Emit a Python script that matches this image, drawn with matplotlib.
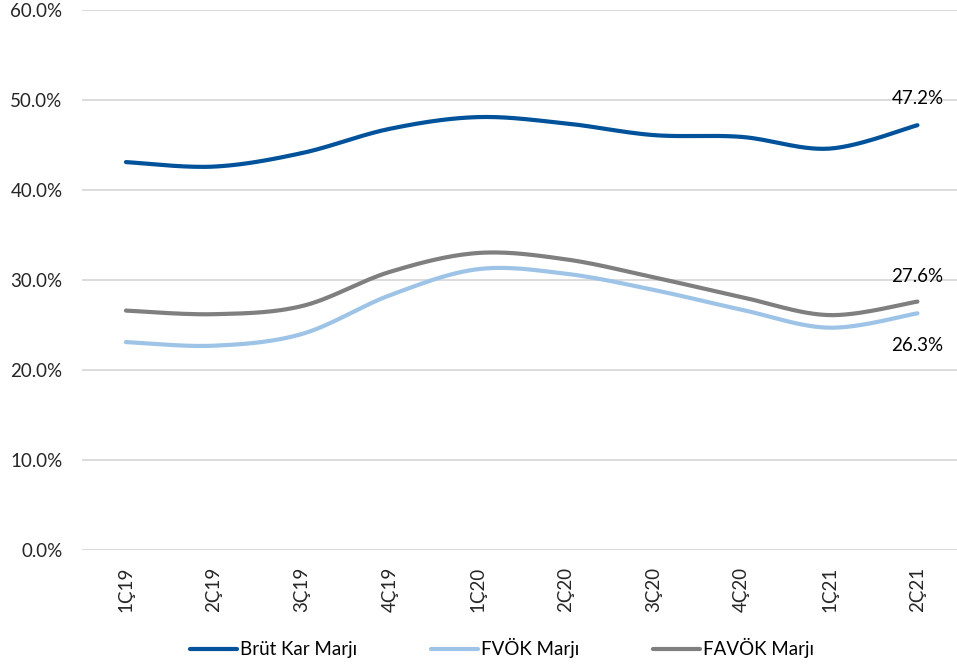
import matplotlib
matplotlib.use("Agg")
import matplotlib.pyplot as plt
import numpy as np
from matplotlib.lines import Line2D

plt.rcParams['font.family'] = ['Lato', 'DejaVu Sans']

categories = ["1Ç19", "2Ç19", "3Ç19", "4Ç19", "1Ç20", "2Ç20", "3Ç20", "4Ç20", "1Ç21", "2Ç21"]
brut = [43.1, 42.6, 44.1, 46.8, 48.1, 47.4, 46.1, 45.9, 44.6, 47.2]
fvok = [23.1, 22.7, 24.0, 28.3, 31.2, 30.7, 28.9, 26.7, 24.7, 26.3]
favok = [26.6, 26.2, 27.1, 30.9, 33.0, 32.3, 30.3, 28.1, 26.1, 27.6]
series_names = ["Brüt Kar Marjı", "FVÖK Marjı", "FAVÖK Marjı"]
colors = ["#00529B", "#9DC3E6", "#7F7F7F"]


def smooth(x, y, n=30):
    x = np.asarray(x, float)
    y = np.asarray(y, float)
    px = np.concatenate([[x[0]], x, [x[-1]]])
    py = np.concatenate([[y[0]], y, [y[-1]]])
    xs, ys = [], []
    t = np.linspace(0, 1, n)
    for i in range(len(x) - 1):
        p0 = np.array([x[i], y[i]])
        p3 = np.array([x[i + 1], y[i + 1]])
        p1 = p0 + (np.array([px[i + 2], py[i + 2]]) - np.array([px[i], py[i]])) / 6
        p2 = p3 - (np.array([px[i + 3], py[i + 3]]) - np.array([px[i + 1], py[i + 1]])) / 6
        b = ((1 - t) ** 3)[:, None] * p0 + (3 * (1 - t) ** 2 * t)[:, None] * p1 + \
            (3 * (1 - t) * t ** 2)[:, None] * p2 + (t ** 3)[:, None] * p3
        xs.extend(b[:, 0])
        ys.extend(b[:, 1])
    return np.array(xs), np.array(ys)


FS = 13.5
fig = plt.figure(figsize=(9.57, 6.66), dpi=100)
ax = fig.add_axes([82 / 957, 116 / 666, (957 - 82) / 957, 540 / 666])
x = np.arange(len(categories))
for vals, c in zip([brut, fvok, favok], colors):
    sx, sy = smooth(x, vals)
    ax.plot(sx, sy, color=c, lw=3.0, solid_capstyle='round')

ax.set_xlim(-0.5, 9.45)
ax.set_ylim(0, 60)
ax.set_yticks(np.arange(0, 61, 10))
ax.set_yticklabels([f"{v:.1f}%" for v in np.arange(0, 61, 10)], fontsize=FS, color='#262626')
ax.set_xticks(x)
ax.set_xticklabels(categories, rotation=90, fontsize=FS, color='#262626')
ax.tick_params(axis='both', length=0)
ax.tick_params(axis='x', pad=12)
ax.tick_params(axis='y', pad=14)
ax.grid(axis='y', color='#D9D9D9', lw=1.3)
ax.set_axisbelow(True)
for s in ax.spines.values():
    s.set_visible(False)

ax.annotate(f"{brut[-1]:.1f}%", (x[-1], brut[-1]), xytext=(0, 13), textcoords='offset points',
            ha='center', va='bottom', fontsize=FS, color='#000000')
ax.annotate(f"{favok[-1]:.1f}%", (x[-1], favok[-1]), xytext=(0, 12), textcoords='offset points',
            ha='center', va='bottom', fontsize=FS, color='#000000')
ax.annotate(f"{fvok[-1]:.1f}%", (x[-1], fvok[-1]), xytext=(0, -17), textcoords='offset points',
            ha='center', va='top', fontsize=FS, color='#000000')

handles = [Line2D([0], [0], color=c, lw=3.0, solid_capstyle='round') for c in colors]
fig.legend(handles, series_names, loc='center', bbox_to_anchor=(502 / 957, 1 - 648 / 666), ncol=3,
           frameon=False, fontsize=FS, handlelength=2.5, handletextpad=0.2, columnspacing=3.9)

fig.savefig("out.png", dpi=100)
